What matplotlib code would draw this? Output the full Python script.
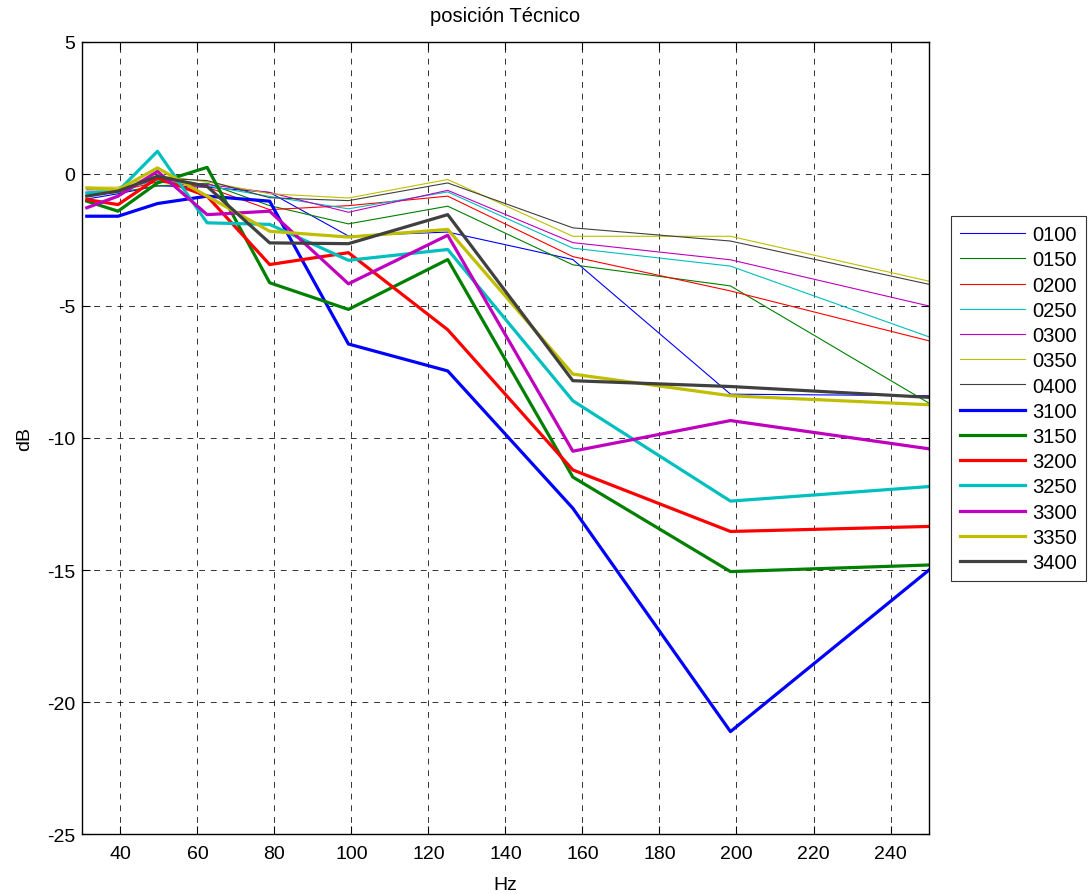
import numpy as np
import matplotlib
matplotlib.use('Agg')
import matplotlib.pyplot as plt

plt.rcParams['font.family'] = ['Liberation Sans', 'DejaVu Sans']
plt.rcParams['axes.unicode_minus'] = False

# third-octave band centres (base-2)
freqs = [31.25, 39.37, 49.61, 62.5, 78.75, 99.21, 125.0, 157.49, 198.43, 250.0]

labels = ['0100', '0150', '0200', '0250', '0300', '0350', '0400',
          '3100', '3150', '3200', '3250', '3300', '3350', '3400']

s0100 = [-0.95, -0.75, -0.45, -0.5, -0.7, -2.35, -2.2, -3.24, -8.34, -8.4]
s0150 = [-0.8, -0.7, -0.45, -0.35, -1.2, -1.89, -1.22, -3.44, -4.24, -8.68]
s0200 = [-0.7, -0.65, -0.3, -0.5, -1.35, -1.2, -0.84, -3.13, -4.43, -6.32]
s0250 = [-0.7, -0.6, -0.25, -0.45, -0.85, -1.32, -0.68, -2.81, -3.49, -6.17]
s0300 = [-0.6, -0.6, -0.2, -0.4, -0.7, -1.45, -0.62, -2.6, -3.25, -5.0]
s0350 = [-0.5, -0.5, -0.05, -0.3, -0.75, -0.91, -0.21, -2.36, -2.36, -4.06]
s0400 = [-0.55, -0.6, -0.15, -0.25, -0.9, -1.01, -0.34, -2.04, -2.54, -4.18]
s3100 = [-1.6, -1.6, -1.12, -0.84, -1.03, -6.44, -7.46, -12.66, -21.12, -15.0]
s3150 = [-1.03, -1.41, -0.34, 0.25, -4.12, -5.13, -3.24, -11.48, -15.06, -14.81]
s3200 = [-0.97, -1.16, -0.15, -0.84, -3.43, -2.98, -5.9, -11.21, -13.54, -13.35]
s3250 = [-0.72, -0.65, 0.86, -1.85, -1.91, -3.27, -2.86, -8.59, -12.39, -11.84]
s3300 = [-1.28, -0.84, 0.1, -1.54, -1.41, -4.16, -2.32, -10.5, -9.34, -10.41]
s3350 = [-0.53, -0.6, 0.23, -0.84, -2.17, -2.39, -2.1, -7.58, -8.4, -8.74]
s3400 = [-0.84, -0.65, -0.09, -0.47, -2.61, -2.64, -1.54, -7.83, -8.05, -8.46]

series = [s0100, s0150, s0200, s0250, s0300, s0350, s0400,
          s3100, s3150, s3200, s3250, s3300, s3350, s3400]

colors = [(0, 0, 1), (0, 0.5, 0), (1, 0, 0), (0, 0.75, 0.75),
          (0.75, 0, 0.75), (0.75, 0.75, 0), (0.25, 0.25, 0.25)]

fig = plt.figure(figsize=(10.9, 8.95), dpi=100)
ax = fig.add_axes([0.0752, 0.067, 0.7771, 0.885])

for i, (lab, y) in enumerate(zip(labels, series)):
    lw = 0.8 if i < 7 else 2.3
    ax.plot(freqs, y, color=colors[i % 7], lw=lw, label=lab)

ax.set_xlim(30, 250)
ax.set_ylim(-25, 5)
ax.set_xticks(np.arange(40, 241, 20))
ax.set_yticks(np.arange(-25, 6, 5))
ax.grid(True, color='k', linestyle=(0, (6, 6)), lw=0.7, alpha=0.8)
ax.tick_params(direction='in', top=True, right=True, labelsize=14, length=6)
ax.tick_params(axis='x', pad=8)
ax.tick_params(axis='y', pad=5)
for sp in ax.spines.values():
    sp.set_linewidth(1.0)

ax.set_title('posición Técnico', fontsize=14.5, pad=15)
ax.set_xlabel('Hz', fontsize=14, labelpad=10)
ax.set_ylabel('dB', fontsize=14, labelpad=10)

leg = ax.legend(loc='upper left', bbox_to_anchor=(951 / 1090, 1 - 217 / 895),
                bbox_transform=fig.transFigure, fontsize=14.5, frameon=True,
                fancybox=False, edgecolor='k', handlelength=3.2,
                labelspacing=0.31, borderaxespad=0, handletextpad=0.4,
                borderpad=0.45)
leg.get_frame().set_linewidth(0.8)

fig.savefig('out.png', dpi=100)
